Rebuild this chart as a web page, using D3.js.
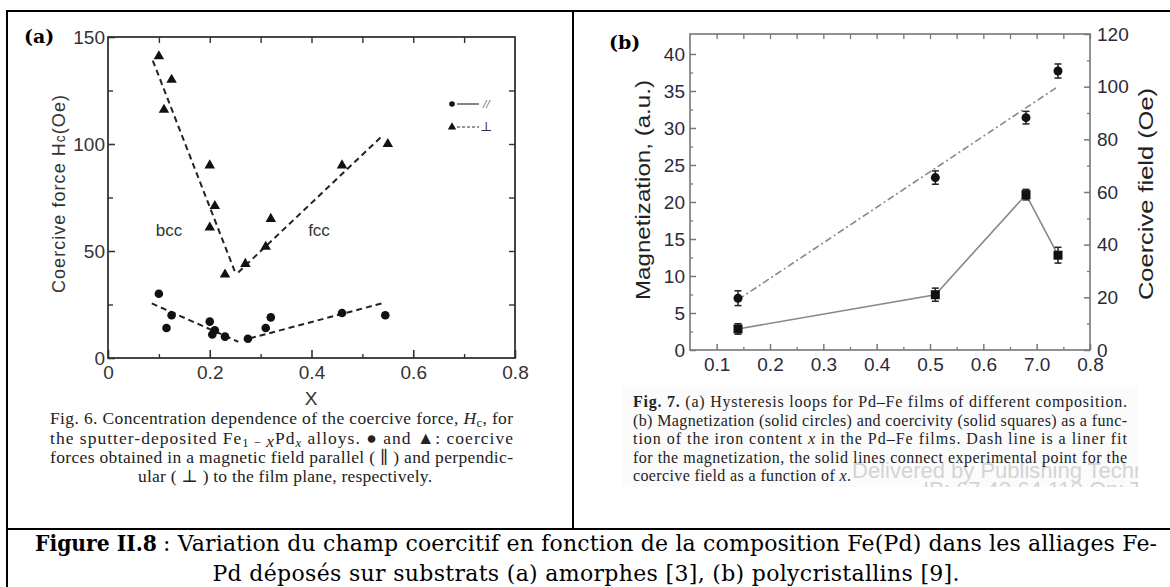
<!DOCTYPE html>
<html>
<head>
<meta charset="utf-8">
<script src="https://cdn.jsdelivr.net/npm/d3@7"></script>
<style>
body { margin: 0; background: #fff; }
svg { display: block; }
</style>
</head>
<body>
<div id="chart"></div>
<script>
// ---- panel (a) : Fe(1-x)Pd(x) sputtered films ----
var perpX  = [0.10, 0.11, 0.125, 0.20, 0.21, 0.20, 0.23, 0.27, 0.31, 0.32, 0.46, 0.55];
var perpHc = [141, 116, 130, 90, 71, 61, 39, 44, 52, 65, 90, 100];
var paraX  = [0.10, 0.115, 0.125, 0.20, 0.21, 0.205, 0.23, 0.275, 0.31, 0.32, 0.46, 0.545];
var paraHc = [30, 14, 20, 17, 13, 11, 10, 9, 14, 19, 21, 20];
// dashed fits, each [x0, y0, x1, y1]
var perpFit = [[0.088, 139, 0.25, 40], [0.256, 40, 0.54, 104]];
var paraFit = [[0.086, 25.5, 0.256, 7.6], [0.279, 9.2, 0.538, 25.5]];
var aXTicks = [0, 0.2, 0.4, 0.6, 0.8];
var aXMinor = [0.1, 0.3, 0.5, 0.7];
var aYTicks = [0, 50, 100, 150];
var aYMinor = [25, 75, 125];

// ---- panel (b) : Pd-Fe films ----
var bX      = [0.14, 0.51, 0.68, 0.74];
var magn    = [7.0, 23.3, 31.4, 37.7];
var magnErr = [1.0, 0.9, 0.85, 0.95];
var hc      = [8, 21, 59, 36];
var hcErr   = [2, 2.5, 2, 3];
var magnFit = [[0.14, 6.8], [0.74, 35.6]];
var bXTicks  = [0.1, 0.2, 0.3, 0.4, 0.5, 0.6, 0.7, 0.8];
var bXLabels = ["0.1", "0.2", "0.3", "0.4", "0.5", "0.6", "7.0", "0.8"];
var bXMinor  = [0.15, 0.25, 0.35, 0.45, 0.55, 0.65, 0.75];
var bYLTicks = [0, 5, 10, 15, 20, 25, 30, 35, 40];
var bYLMinor = [2.5, 7.5, 12.5, 17.5, 22.5, 27.5, 32.5, 37.5];
var bYRTicks = [0, 20, 40, 60, 80, 100, 120];
var bYRMinor = [10, 30, 50, 70, 90, 110];

var width = 1170, height = 587;
var svg = d3.select("#chart").append("svg")
    .attr("width", width)
    .attr("height", height);

var serif = "'Liberation Serif', 'DejaVu Serif', serif";
var capSerif = "'DejaVu Serif', 'Liberation Serif', serif";
var sans = "'Liberation Sans', Arial, sans-serif";

// table frame
var frame = [[6, 11, 1170, 11], [7, 11, 7, 587], [573, 11, 573, 529], [7, 529, 1170, 529]];
svg.selectAll("line.frame").data(frame).enter().append("line")
    .attr("class", "frame")
    .attr("x1", d => d[0]).attr("y1", d => d[1])
    .attr("x2", d => d[2]).attr("y2", d => d[3])
    .attr("stroke", "#000").attr("stroke-width", 2);

function cleanAxis(g, col, w, font, size, fill) {
    g.select(".domain").remove();
    g.selectAll("line").attr("stroke", col).attr("stroke-width", w);
    g.selectAll("text").attr("font-family", font).attr("font-size", size).attr("fill", fill);
}

// ================= panel (a) =================
var ax = d3.scaleLinear().domain([0, 0.8]).range([108, 515]);
var ay = d3.scaleLinear().domain([0, 150]).range([358, 37]);
var aCol = "#333";

var ga = svg.append("g");
ga.append("rect").attr("x", 108).attr("y", 37).attr("width", 407).attr("height", 321)
    .attr("fill", "none").attr("stroke", aCol).attr("stroke-width", 1.8);

ga.append("g").attr("transform", "translate(0,358)")
    .call(d3.axisBottom(ax).tickValues(aXTicks).tickSize(-8).tickPadding(8)
        .tickFormat(d => d === 0 ? "0" : d.toFixed(1)))
    .call(g => cleanAxis(g, aCol, 1.6, sans, 19, "#333"));
ga.append("g").attr("transform", "translate(0,358)")
    .call(d3.axisBottom(ax).tickValues(aXMinor).tickSize(-4).tickFormat(""))
    .call(g => cleanAxis(g, aCol, 1.4, sans, 19, "#333"));
ga.append("g").attr("transform", "translate(0,37)")
    .call(d3.axisTop(ax).tickValues(aXMinor.concat([0.2, 0.4, 0.6])).tickSize(-6).tickFormat(""))
    .call(g => cleanAxis(g, aCol, 1.4, sans, 19, "#333"));
ga.append("g").attr("transform", "translate(108,0)")
    .call(d3.axisLeft(ay).tickValues(aYTicks).tickSize(-7).tickPadding(3))
    .call(g => cleanAxis(g, aCol, 1.6, sans, 19, "#333"));
ga.append("g").attr("transform", "translate(108,0)")
    .call(d3.axisLeft(ay).tickValues(aYMinor).tickSize(-5).tickFormat(""))
    .call(g => cleanAxis(g, aCol, 1.4, sans, 19, "#333"));
ga.append("g").attr("transform", "translate(515,0)")
    .call(d3.axisRight(ay).tickValues(aYMinor.concat([50, 100])).tickSize(-6).tickFormat(""))
    .call(g => cleanAxis(g, aCol, 1.4, sans, 19, "#333"));

// dashed fits
ga.selectAll("line.pfit").data(perpFit.concat(paraFit)).enter().append("line")
    .attr("x1", d => ax(d[0])).attr("y1", d => ay(d[1]))
    .attr("x2", d => ax(d[2])).attr("y2", d => ay(d[3]))
    .attr("stroke", "#222").attr("stroke-width", 2).attr("stroke-dasharray", "6,4");

var tri = d3.symbol().type(d3.symbolTriangle).size(48);
ga.selectAll("path.tri").data(perpX).enter().append("path")
    .attr("d", tri)
    .attr("transform", (d, i) => "translate(" + ax(d) + "," + ay(perpHc[i]) + ")")
    .attr("fill", "#111");
ga.selectAll("circle.para").data(paraX).enter().append("circle")
    .attr("cx", d => ax(d)).attr("cy", (d, i) => ay(paraHc[i])).attr("r", 4.3)
    .attr("fill", "#111");

// legend (a)
ga.append("circle").attr("cx", 452).attr("cy", 104).attr("r", 2.8).attr("fill", "#111");
ga.append("line").attr("x1", 457).attr("x2", 479).attr("y1", 104).attr("y2", 104)
    .attr("stroke", "#333").attr("stroke-width", 1.2);
ga.append("text").attr("x", 483).attr("y", 108).attr("font-family", serif).attr("font-style", "italic")
    .attr("font-size", 12).attr("fill", "#333").text("//");
ga.append("path").attr("d", d3.symbol().type(d3.symbolTriangle).size(30))
    .attr("transform", "translate(452,127)").attr("fill", "#111");
ga.append("line").attr("x1", 457).attr("x2", 479).attr("y1", 127).attr("y2", 127)
    .attr("stroke", "#333").attr("stroke-width", 1.2).attr("stroke-dasharray", "3,2");
ga.append("text").attr("x", 480).attr("y", 131).attr("font-family", serif)
    .attr("font-size", 13).attr("fill", "#333").text("⊥");

ga.append("text").attr("x", 169).attr("y", 236).attr("text-anchor", "middle")
    .attr("font-family", sans).attr("font-size", 17).attr("fill", "#333").text("bcc");
ga.append("text").attr("x", 319).attr("y", 236).attr("text-anchor", "middle")
    .attr("font-family", sans).attr("font-size", 17).attr("fill", "#333").text("fcc");
ga.append("text").attr("x", 311).attr("y", 405).attr("text-anchor", "middle")
    .attr("font-family", sans).attr("font-size", 19).attr("fill", "#333").text("X");

var ylab = ga.append("text").attr("transform", "translate(65,194) rotate(-90)")
    .attr("text-anchor", "middle").attr("font-family", sans).attr("font-size", 18)
    .attr("fill", "#333").attr("textLength", 198).attr("lengthAdjust", "spacing");
ylab.append("tspan").text("Coercive  force  H");
ylab.append("tspan").attr("font-size", 14).text("c");
ylab.append("tspan").text("(Oe)");

ga.append("text").attr("x", 24).attr("y", 43).attr("font-family", capSerif).attr("font-weight", "bold")
    .attr("font-size", 19).attr("fill", "#000").text("(a)");

// caption text line built of styled pieces
function richLine(parent, x, y, parts, opts) {
    var t = parent.append("text").attr("x", x).attr("y", y)
        .attr("font-family", opts.font || serif).attr("font-size", opts.size).attr("fill", opts.fill || "#222");
    if (opts.anchor) t.attr("text-anchor", opts.anchor);
    if (opts.len) t.attr("textLength", opts.len).attr("lengthAdjust", "spacing");
    parts.forEach(p => {
        var s = t.append("tspan").text(p.t);
        if (p.i) s.attr("font-style", "italic");
        if (p.b) s.attr("font-weight", "bold");
        if (p.sub) s.attr("dy", 3).attr("font-size", opts.size * 0.72);
        if (p.back) s.attr("dy", -3);
    });
    return t;
}
richLine(ga, 50, 424, [{t: "Fig. 6. Concentration dependence of the coercive force, "}, {t: "H", i: 1},
    {t: "c", sub: 1}, {t: ", for", back: 1}], {size: 17.5, len: 463});
richLine(ga, 50, 444, [{t: "the sputter-deposited Fe"}, {t: "1 − ", sub: 1}, {t: "x", i: 1},
    {t: "Pd", back: 1}, {t: "x", sub: 1, i: 1}, {t: " alloys. ● and ▲: coercive", back: 1}], {size: 17.5, len: 463});
richLine(ga, 50, 463, [{t: "forces obtained in a magnetic field parallel ( ∥ ) and perpendic-"}], {size: 17.5, len: 463});
richLine(ga, 285, 482, [{t: "ular ( ⊥ ) to the film plane, respectively."}], {size: 17.5, anchor: "middle", len: 294});

// ================= panel (b) =================
var bx = d3.scaleLinear().domain([0.05, 0.8]).range([690, 1090]);
var byL = d3.scaleLinear().domain([0, 42.7]).range([350, 34]);
var byR = d3.scaleLinear().domain([0, 120]).range([350, 34]);
var bCol = "#777";
var lblCol = "#2a2a3a";

var gb = svg.append("g");
gb.append("rect").attr("x", 690).attr("y", 34).attr("width", 400).attr("height", 316)
    .attr("fill", "none").attr("stroke", bCol).attr("stroke-width", 1.6);

gb.append("g").attr("transform", "translate(0,350)")
    .call(d3.axisBottom(bx).tickValues(bXTicks).tickSize(-6).tickPadding(8)
        .tickFormat((d, i) => bXLabels[i]))
    .call(g => cleanAxis(g, bCol, 1.5, sans, 19, lblCol));
gb.append("g").attr("transform", "translate(0,350)")
    .call(d3.axisBottom(bx).tickValues(bXMinor).tickSize(-3).tickFormat(""))
    .call(g => cleanAxis(g, bCol, 1.3, sans, 19, lblCol));
gb.append("g").attr("transform", "translate(0,34)")
    .call(d3.axisTop(bx).tickValues(bXTicks.concat(bXMinor)).tickSize(-5).tickFormat(""))
    .call(g => cleanAxis(g, bCol, 1.3, sans, 19, lblCol));
gb.append("g").attr("transform", "translate(690,0)")
    .call(d3.axisLeft(byL).tickValues(bYLTicks).tickSize(-6).tickPadding(5))
    .call(g => cleanAxis(g, bCol, 1.5, sans, 19, lblCol));
gb.append("g").attr("transform", "translate(690,0)")
    .call(d3.axisLeft(byL).tickValues(bYLMinor).tickSize(-3).tickFormat(""))
    .call(g => cleanAxis(g, bCol, 1.3, sans, 19, lblCol));
gb.append("g").attr("transform", "translate(1090,0)")
    .call(d3.axisRight(byR).tickValues(bYRTicks).tickSize(-6).tickPadding(7))
    .call(g => cleanAxis(g, bCol, 1.5, sans, 19, lblCol));
gb.append("g").attr("transform", "translate(1090,0)")
    .call(d3.axisRight(byR).tickValues(bYRMinor).tickSize(-3).tickFormat(""))
    .call(g => cleanAxis(g, bCol, 1.3, sans, 19, lblCol));

// magnetization linear fit (dash-dot)
gb.append("line")
    .attr("x1", bx(magnFit[0][0])).attr("y1", byL(magnFit[0][1]))
    .attr("x2", bx(magnFit[1][0])).attr("y2", byL(magnFit[1][1]))
    .attr("stroke", "#888").attr("stroke-width", 1.6).attr("stroke-dasharray", "7,3,2,3");

// coercive field solid line
gb.append("path")
    .attr("d", d3.line().x((d, i) => bx(d)).y((d, i) => byR(hc[i]))(bX))
    .attr("fill", "none").attr("stroke", "#888").attr("stroke-width", 1.6);

// error bars
function errBars(yScale, vals, errs) {
    bX.forEach((d, i) => {
        var x = bx(d), y0 = yScale(vals[i] - errs[i]), y1 = yScale(vals[i] + errs[i]);
        gb.append("line").attr("x1", x).attr("x2", x).attr("y1", y0).attr("y2", y1)
            .attr("stroke", "#222").attr("stroke-width", 1.5);
        [y0, y1].forEach(y => gb.append("line").attr("x1", x - 3.5).attr("x2", x + 3.5)
            .attr("y1", y).attr("y2", y).attr("stroke", "#222").attr("stroke-width", 1.5));
    });
}
errBars(byL, magn, magnErr);
errBars(byR, hc, hcErr);

gb.selectAll("circle.m").data(bX).enter().append("circle")
    .attr("cx", d => bx(d)).attr("cy", (d, i) => byL(magn[i])).attr("r", 4.5)
    .attr("fill", "#111");
gb.selectAll("rect.h").data(bX).enter().append("rect")
    .attr("x", d => bx(d) - 4.5).attr("y", (d, i) => byR(hc[i]) - 4.5)
    .attr("width", 9).attr("height", 9).attr("fill", "#111");

gb.append("text").attr("transform", "translate(650,190) rotate(-90)")
    .attr("text-anchor", "middle").attr("font-family", sans).attr("font-size", 20)
    .attr("fill", "#222").attr("textLength", 220).attr("lengthAdjust", "spacingAndGlyphs")
    .text("Magnetization, (a.u.)");
gb.append("text").attr("transform", "translate(1153,194) rotate(-90)")
    .attr("text-anchor", "middle").attr("font-family", sans).attr("font-size", 20)
    .attr("fill", "#222").attr("textLength", 212).attr("lengthAdjust", "spacingAndGlyphs")
    .text("Coercive field (Oe)");
gb.append("text").attr("x", 890).attr("y", 400).attr("text-anchor", "middle")
    .attr("font-family", sans).attr("font-size", 19).attr("font-style", "italic")
    .attr("fill", "#222").text("x");

gb.append("text").attr("x", 609).attr("y", 49).attr("font-family", capSerif).attr("font-weight", "bold")
    .attr("font-size", 19).attr("fill", "#000").text("(b)");

// Fig. 7 caption (pasted image box)
svg.append("clipPath").attr("id", "capclip").append("rect")
    .attr("x", 622).attr("y", 385).attr("width", 516).attr("height", 102);
var cap = gb.append("g").attr("clip-path", "url(#capclip)");
cap.append("rect").attr("x", 622).attr("y", 385).attr("width", 516).attr("height", 102)
    .attr("fill", "#fbfbfb");
cap.append("text").attr("x", 852).attr("y", 478).attr("font-family", sans).attr("font-size", 22)
    .attr("fill", "#d4d4d4").text("Delivered by Publishing Technology");
cap.append("text").attr("x", 923).attr("y", 497).attr("font-family", sans).attr("font-size", 22)
    .attr("fill", "#d4d4d4").text("IP: 67.42.64.110 On: Thu");
richLine(cap, 633, 407, [{t: "Fig. 7.", b: 1}, {t: "   (a) Hysteresis loops for Pd–Fe films of different composition."}],
    {size: 16, len: 494});
richLine(cap, 633, 426, [{t: "(b) Magnetization (solid circles) and coercivity (solid squares) as a func-"}],
    {size: 16, len: 494});
richLine(cap, 633, 444, [{t: "tion of the iron content "}, {t: "x", i: 1}, {t: " in the Pd–Fe films. Dash line is a liner fit"}],
    {size: 16, len: 494});
richLine(cap, 633, 463, [{t: "for the magnetization, the solid lines connect experimental point for the"}],
    {size: 16, len: 494});
richLine(cap, 633, 481, [{t: "coercive field as a function of "}, {t: "x", i: 1}, {t: "."}], {size: 16, len: 218});

// ================= figure caption =================
svg.append("text").attr("x", 35).attr("y", 551).attr("font-family", capSerif)
    .attr("font-weight", "bold").attr("font-size", 22).attr("fill", "#000")
    .attr("textLength", 122).attr("lengthAdjust", "spacingAndGlyphs").text("Figure II.8");
svg.append("text").attr("x", 163).attr("y", 551).attr("font-family", capSerif)
    .attr("font-size", 22).attr("fill", "#000")
    .attr("textLength", 1157 - 163).attr("lengthAdjust", "spacing")
    .text(": Variation du champ coercitif en fonction de la composition Fe(Pd) dans les alliages Fe-");
svg.append("text").attr("x", 586).attr("y", 581).attr("text-anchor", "middle").attr("font-family", capSerif)
    .attr("font-size", 22).attr("fill", "#000")
    .attr("textLength", 747).attr("lengthAdjust", "spacing")
    .text("Pd déposés sur substrats (a) amorphes [3], (b) polycristallins [9].");
</script>
</body>
</html>
